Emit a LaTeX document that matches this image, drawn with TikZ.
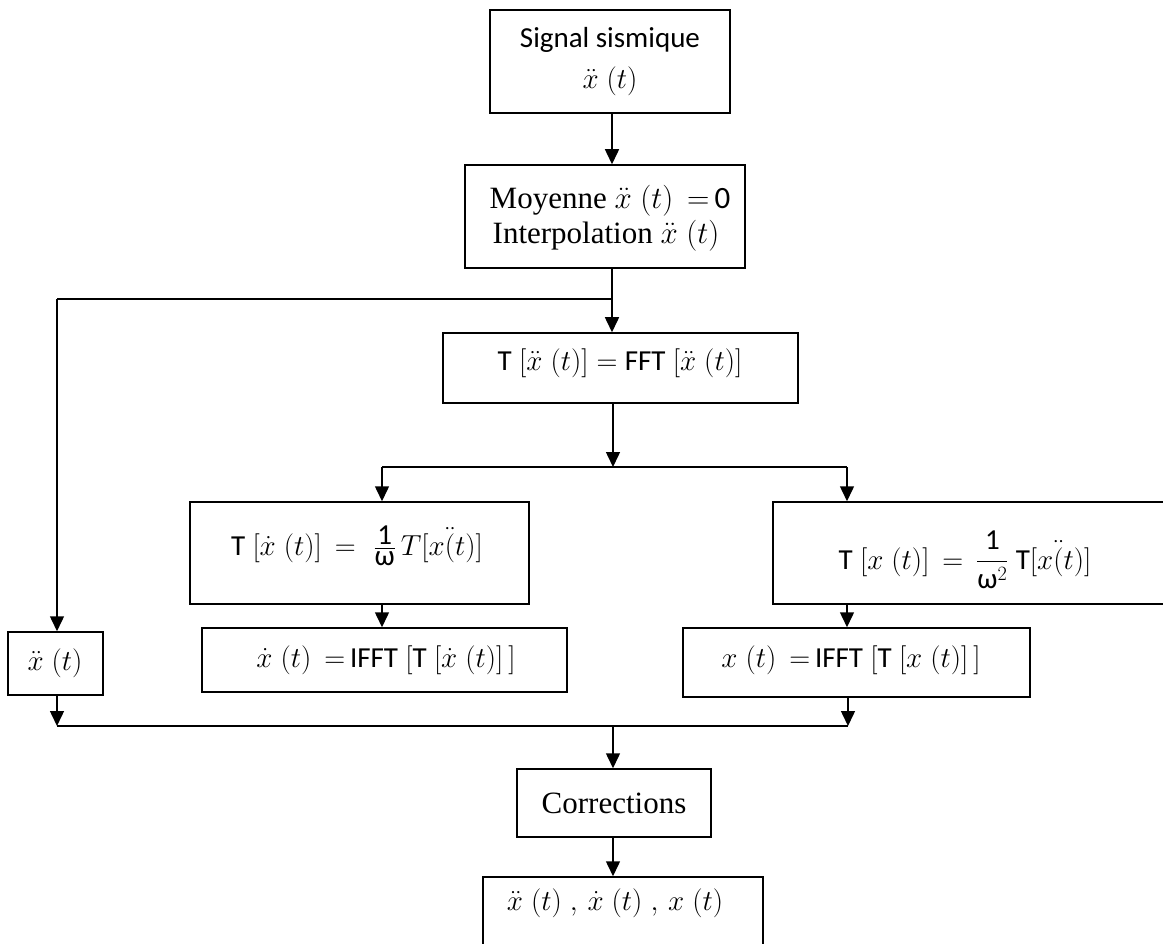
\RequirePackage{fix-cm}
\documentclass[tikz,border=0pt]{standalone}
\usepackage{fontspec}
\usepackage{amsmath}
\setmainfont{Liberation Serif}
\newfontfamily\cbr{Carlito}
\usetikzlibrary{arrows.meta}
\tikzset{
  box/.style={draw, line width=1.5pt, rectangle, inner sep=0pt},
  txt/.style={inner sep=0pt, font=\fontsize{29}{35}\selectfont},
  stxt/.style={inner sep=0pt, font=\fontsize{31}{37}\selectfont},
  arr/.style={line width=1.5pt, -{Triangle[width=14pt,length=15pt]}},
  ln/.style={line width=1.5pt},
}
\begin{document}
\begin{tikzpicture}[x=1pt,y=-1pt]
\useasboundingbox (0,0) rectangle (1163,944);
% boxes
\node[box, minimum width=240pt, minimum height=103pt] (b1) at (610,61.5) {};
\node[box, minimum width=280pt, minimum height=103pt] (b2) at (605,216.5) {};
\node[box, minimum width=355pt, minimum height=70pt] (b3) at (620.5,368) {};
\node[box, minimum width=339pt, minimum height=102pt] (b4) at (359.5,553) {};
\node[box, minimum width=365pt, minimum height=64pt] (b5) at (384.5,660) {};
\node[box, minimum width=400pt, minimum height=102pt] (b6) at (973,553) {};
\node[box, minimum width=347pt, minimum height=69pt] (b7) at (856.5,662.5) {};
\node[box, minimum width=95pt, minimum height=63pt] (bx) at (55.5,663.5) {};
\node[box, minimum width=194pt, minimum height=68pt] (corr) at (614,803) {};
\node[box, minimum width=280pt, minimum height=100pt] (fin) at (623,927) {};
% texts
\node[txt] (t1a) at (610,40) {\cbr Signal sismique};
\node[txt] (t1b) at (610,81) {$\ddot{x}\;(t)$};
\node[stxt] (t2a) at (610,201) {Moyenne $\ddot{x}\;(t)\,=\,${\cbr 0}};
\node[stxt] (t2b) at (606,236) {Interpolation $\ddot{x}\;(t)$};
\node[txt] (t3) at (620,363) {{\cbr T} $[\ddot{x}\;(t)] = $ {\cbr FFT} $[\ddot{x}\;(t)]$};
\node[txt] (t4) at (357,546) {{\cbr T} $[\dot{x}\;(t)]\,=\,\,\frac{\mbox{\cbr 1}}{\mbox{\cbr ω}}\,T[x\ddot{(}t)]$};
\node[txt] (t5) at (386,660) {$\dot{x}\;(t)\,=\,${\cbr IFFT} $[${\cbr T} $[\dot{x}\;(t)]\,]$};
\node[txt] (t6) at (965,560) {{\cbr T} $[x\;(t)]\,=\,\dfrac{\mbox{\cbr 1}}{\mbox{\cbr ω}^2}$ {\cbr T}$[x\ddot{(}t)]$};
\node[txt] (t7) at (851,660) {$x\;(t)\,=\,${\cbr IFFT} $[${\cbr T} $[x\;(t)]\,]$};
\node[txt] (tx) at (55,663) {$\ddot{x}\;(t)$};
\node[stxt] (tc) at (614,803) {Corrections};
\node[txt] (tf) at (615,903) {$\ddot{x}\;(t)\;,\,\dot{x}\;(t)\;,\,x\;(t)$};
% junctions
\coordinate (j1) at (612,299);
\coordinate (k1) at (57,299);
\coordinate (j2) at (613,467);
\coordinate (m1) at (382,467);
\coordinate (m2) at (847,467);
\coordinate (l1) at (57,726);
\coordinate (l2) at (848,726);
\coordinate (j3) at (613,726);
% connectors
\draw[arr] (b1.south -| j1) -- (b2.north -| j1);
\draw[arr] (b2.south -| j1) -- (b3.north -| j1);
\draw[ln] (j1) -- (k1);
\draw[arr] (k1) -- (k1 |- bx.north);
\draw[arr] (b3.south -| j2) -- (j2);
\draw[ln] (m1) -- (m2);
\draw[arr] (m1) -- (m1 |- b4.north);
\draw[arr] (m2) -- (m2 |- b6.north);
\draw[arr] (m1 |- b4.south) -- (m1 |- b5.north);
\draw[arr] (m2 |- b6.south) -- (m2 |- b7.north);
\draw[arr] (l1 |- bx.south) -- (l1);
\draw[arr] (l2 |- b7.south) -- (l2);
\draw[ln] (l1) -- (l2);
\draw[arr] (j3) -- (corr.north -| j3);
\draw[arr] (corr.south -| j3) -- (fin.north -| j3);
\end{tikzpicture}
\end{document}
